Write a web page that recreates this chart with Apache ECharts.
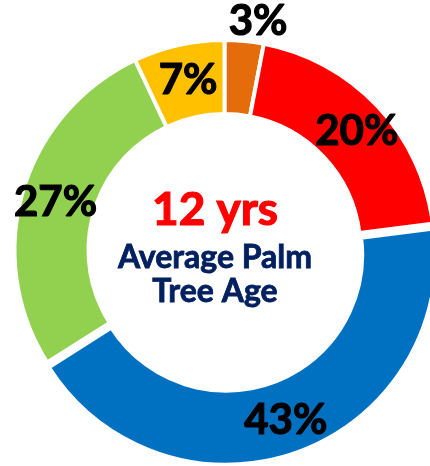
<!DOCTYPE html>
<html>
<head>
<meta charset="utf-8">
<script src="https://cdn.jsdelivr.net/npm/echarts@6/dist/echarts.min.js"></script>
<style>
  html, body { margin: 0; padding: 0; background: #fff; }
  #chart { width: 430px; height: 466px; }
</style>
</head>
<body>
<div id="chart"></div>
<script>
  // slices clockwise from 12 o'clock
  var names = ['3%', '20%', '43%', '27%', '7%'];
  var values = [3, 20, 43, 27, 7];
  var colors = ['#E46C0A', '#FF0000', '#0070C0', '#92D050', '#FFC000'];
  // label nudges (only the tiny slice sits outside)
  var labelShift = [[17, -53], [4, 2], [0, 0], [0, 2], [2, 2]];

  var chart = echarts.init(document.getElementById('chart'));

  var option = {
    animation: false,
    series: [{
      type: 'pie',
      center: [224.5, 250],
      radius: [136, 210],
      startAngle: 90,
      clockwise: true,
      selectedMode: 'single',
      selectedOffset: 5,
      itemStyle: {
        borderColor: '#fff',
        borderWidth: 4
      },
      label: {
        show: true,
        position: 'inside',
        formatter: '{d}%',
        color: '#000',
        fontFamily: 'Lato',
        fontWeight: 'bold',
        fontSize: 42,
        textBorderColor: '#000',
        textBorderWidth: 1.2
      },
      labelLine: { show: false },
      labelLayout: function (p) {
        var s = labelShift[p.dataIndex];
        return { dx: s[0], dy: s[1] };
      },
      emphasis: { disabled: true },
      data: values.map(function (v, i) {
        return {
          value: v,
          name: names[i],
          selected: i === 2,
          itemStyle: { color: colors[i] },
          select: { itemStyle: { color: colors[i] } }
        };
      })
    }],
    graphic: [
      {
        type: 'text', left: 'center', top: 187,
        style: { text: '12 yrs', fill: '#FF0000', font: 'bold 46px Lato', x: -11, stroke: '#FF0000', lineWidth: 1.2 }
      },
      {
        type: 'text', left: 'center', top: 241,
        style: { text: 'Average Palm', fill: '#002060', font: 'bold 32px Lato', stroke: '#002060', lineWidth: 0.8 }
      },
      {
        type: 'text', left: 'center', top: 275,
        style: { text: 'Tree Age', fill: '#002060', font: 'bold 32px Lato', stroke: '#002060', lineWidth: 0.8 }
      }
    ]
  };

  chart.setOption(option);
</script>
</body>
</html>
